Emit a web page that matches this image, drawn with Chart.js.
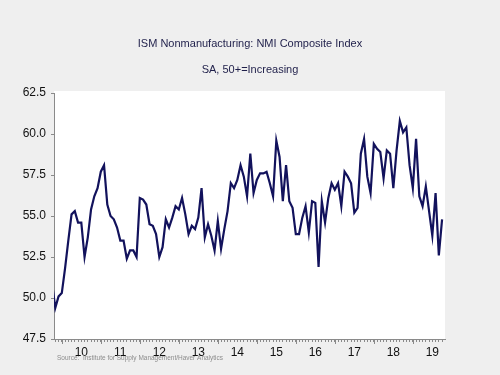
<!DOCTYPE html>
<html>
<head>
<meta charset="utf-8">
<title>ISM Nonmanufacturing: NMI Composite Index</title>
<script src="https://cdn.jsdelivr.net/npm/chart.js@4.4.1/dist/chart.umd.min.js"></script>
<style>
    html, body { margin: 0; padding: 0; background: #efefef; }
    canvas { display: block; }
</style>
</head>
<body>
<canvas id="nmiChart" width="500" height="375"></canvas>
<script>
// monthly readings, Oct 2009 .. Oct 2019 (index 0 = Oct 2009)
const nmiValues = [
    50.9, 49.4, 50.1,
    50.3, 51.8, 53.5, 55.1, 55.3, 54.6, 54.6, 52.5, 53.7, 55.4, 56.2, 56.7,
    57.7, 58.1, 55.7, 55.0, 54.8, 54.3, 53.5, 53.5, 52.4, 52.9, 52.9, 52.5,
    56.1, 56.0, 55.7, 54.5, 54.4, 53.9, 52.5, 53.1, 54.8, 54.3, 54.9, 55.6,
    55.4, 56.1, 55.1, 53.9, 54.4, 54.2, 54.9, 56.7, 53.7, 54.5, 53.8, 52.9,
    54.7, 53.0, 54.2, 55.3, 57.0, 56.7, 57.2, 58.1, 57.4, 56.2, 58.8, 56.4,
    57.2, 57.6, 57.6, 57.7, 57.0, 56.2, 59.6, 58.6, 55.9, 58.1, 55.9, 55.5,
    53.9, 53.9, 54.9, 55.6, 54.0, 55.9, 55.8, 51.9, 55.9, 54.6, 56.1, 57.0,
    56.6, 57.0, 55.6, 57.7, 57.4, 57.0, 55.2, 55.5, 58.8, 59.7, 57.4, 56.4,
    59.4, 59.1, 58.9, 57.3, 59.0, 58.8, 56.7, 59.0, 60.8, 60.1, 60.4, 58.1,
    56.7, 59.7, 56.2, 55.6, 56.8, 55.3, 53.8, 56.4, 52.6, 54.8
];
const yearLabels = ['10', '11', '12', '13', '14', '15', '16', '17', '18', '19'];
const yTicks = [47.5, 50.0, 52.5, 55.0, 57.5, 60.0, 62.5];

const firstJan = 3;   // index of Jan 2010
const axisGrey = '#8a8a8a';
const fontFamily = '"Liberation Sans", Arial, sans-serif';

// white plot panel, year ticks and source line
const decorPlugin = {
    id: 'decor',
    beforeDraw(chart) {
        const { ctx, chartArea } = chart;
        ctx.save();
        ctx.fillStyle = '#ffffff';
        ctx.fillRect(chartArea.left, chartArea.top - 2, chartArea.right - chartArea.left, chartArea.bottom - chartArea.top + 2);
        ctx.restore();
    },
    afterDraw(chart) {
        const { ctx, chartArea } = chart;
        const xScale = chart.scales.x;
        ctx.save();
        ctx.strokeStyle = axisGrey;
        ctx.lineWidth = 1;
        for (let i = firstJan; i <= xScale.max; i += 12) {
            const px = Math.round(xScale.getPixelForValue(i)) + 0.5;
            ctx.beginPath();
            ctx.moveTo(px, chartArea.bottom);
            ctx.lineTo(px, chartArea.bottom + 5);
            ctx.stroke();
        }
        ctx.fillStyle = '#8c8c8c';
        ctx.font = '6.5px ' + fontFamily;
        ctx.textBaseline = 'middle';
        ctx.fillText('Source:  Institute for Supply Management/Haver Analytics', chartArea.left + 3, 358.5, 166);
        ctx.restore();
    }
};

const ctx = document.getElementById('nmiChart').getContext('2d');
const nmiChart = new Chart(ctx, {
    type: 'line',
    data: {
        datasets: [{
            data: nmiValues.map((v, i) => ({ x: i, y: v })),
            borderColor: '#12125c',
            borderWidth: 2.2,
            pointRadius: 0,
            tension: 0,
            fill: false
        }]
    },
    options: {
        responsive: false,
        animation: false,
        layout: { padding: 0 },
        plugins: {
            legend: { display: false },
            tooltip: { enabled: false },
            title: {
                display: true,
                text: 'ISM Nonmanufacturing: NMI Composite Index',
                color: '#1f1f4a',
                font: { family: fontFamily, size: 11, weight: 'normal' },
                padding: { top: 37.5, bottom: 0 }
            },
            subtitle: {
                display: true,
                text: 'SA, 50+=Increasing',
                color: '#1f1f4a',
                font: { family: fontFamily, size: 11, weight: 'normal' },
                padding: { top: 12.7, bottom: 16.4 }
            }
        },
        scales: {
            x: {
                type: 'linear',
                min: 0.6,
                max: 120.9,
                afterBuildTicks: function(scale) {
                    const ticks = [];
                    for (let i = Math.ceil(scale.min); i <= scale.max; i++) {
                        ticks.push({ value: i });
                    }
                    scale.ticks = ticks;
                },
                afterFit: function(scale) { scale.height = 36; },
                border: { display: true, color: axisGrey, width: 1 },
                grid: { drawOnChartArea: false, tickLength: 3, tickColor: axisGrey, tickWidth: 1 },
                ticks: {
                    autoSkip: false,
                    maxRotation: 0,
                    padding: 3,
                    color: '#111111',
                    font: { family: fontFamily, size: 12 },
                    callback: function(value) {
                        const k = (value - firstJan - 6) / 12;
                        return Number.isInteger(k) && yearLabels[k] ? yearLabels[k] : '';
                    }
                }
            },
            y: {
                min: 47.5,
                max: 62.5,
                afterBuildTicks: function(scale) {
                    scale.ticks = yTicks.map(v => ({ value: v }));
                },
                afterFit: function(scale) { scale.width = 54; },
                border: { display: true, color: axisGrey, width: 1 },
                grid: { drawOnChartArea: false, tickLength: 3, tickColor: axisGrey },
                ticks: {
                    padding: 5,
                    color: '#111111',
                    font: { family: fontFamily, size: 12 },
                    callback: function(value) { return value.toFixed(1); }
                }
            },
            // empty right-hand margin so the titles stay centred on the page
            yRight: {
                position: 'right',
                display: true,
                border: { display: false },
                grid: { display: false },
                ticks: { display: false },
                afterFit: function(scale) { scale.width = 55; }
            }
        }
    },
    plugins: [decorPlugin]
});
</script>
</body>
</html>
